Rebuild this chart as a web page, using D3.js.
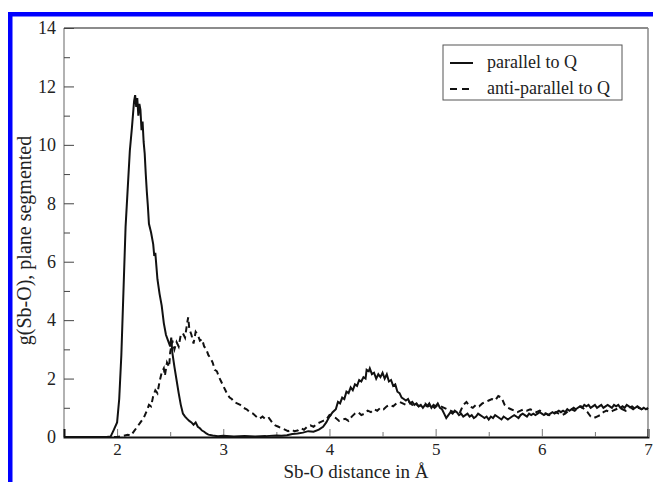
<!DOCTYPE html>
<html>
<head>
<meta charset="utf-8">
<script src="https://cdn.jsdelivr.net/npm/d3@7"></script>
<style>
  body { margin: 0; background: #fff; }
  svg { display: block; }
  svg text { font-family: "Liberation Serif", "Times New Roman", "DejaVu Serif", serif; }
</style>
</head>
<body>
<div id="chart"></div>
<script>
// ---- data ----
const parallelX = [1.50,1.90,1.94,1.97,2.00,2.02,2.04,2.06,2.08,2.10,2.12,2.14,2.16,2.17,2.18,2.19,2.20,2.21,2.22,2.23,2.24,2.25,2.26,2.27,2.28,2.29,2.30,2.32,2.34,2.35,2.36,2.38,2.40,2.42,2.44,2.46,2.48,2.50,2.51,2.52,2.54,2.56,2.58,2.60,2.62,2.64,2.66,2.68,2.70,2.72,2.74,2.76,2.78,2.80,2.82,2.84,2.86,2.90,2.95,3.00,3.10,3.20,3.30,3.40,3.50,3.55,3.60,3.65,3.70,3.75,3.80,3.85,3.90,3.94,3.97,4.00,4.03,4.06,4.08,4.10,4.12,4.14,4.16,4.18,4.20,4.22,4.24,4.26,4.28,4.30,4.32,4.34,4.35,4.37,4.38,4.40,4.42,4.44,4.46,4.48,4.50,4.52,4.54,4.56,4.58,4.60,4.62,4.64,4.66,4.68,4.70,4.72,4.74,4.76,4.78,4.80,4.82,4.84,4.86,4.88,4.90,4.92,4.94,4.96,4.98,5.00,5.02,5.04,5.06,5.08,5.10,5.12,5.14,5.16,5.18,5.20,5.22,5.24,5.26,5.28,5.30,5.32,5.34,5.36,5.38,5.40,5.42,5.44,5.46,5.48,5.50,5.52,5.54,5.56,5.58,5.60,5.62,5.64,5.66,5.68,5.70,5.72,5.74,5.76,5.78,5.80,5.82,5.84,5.86,5.88,5.90,5.92,5.94,5.96,5.98,6.00,6.02,6.04,6.06,6.08,6.10,6.12,6.14,6.16,6.18,6.20,6.22,6.24,6.26,6.28,6.30,6.32,6.34,6.36,6.38,6.40,6.42,6.44,6.46,6.48,6.50,6.52,6.54,6.56,6.58,6.60,6.62,6.64,6.66,6.68,6.70,6.72,6.74,6.76,6.78,6.80,6.82,6.84,6.86,6.88,6.90,6.92,6.94,6.96,6.98,7.00];
const parallelY = [0,0,0.02,0.25,0.5,1.3,2.8,5.0,7.2,8.5,9.8,10.6,11.5,11.7,11.3,11.6,11.0,11.4,11.2,10.5,10.8,10.1,9.7,9.0,8.4,7.9,7.3,7.0,6.6,6.2,6.3,5.4,4.9,4.5,3.9,3.5,3.3,3.1,3.4,2.9,2.4,1.95,1.5,1.1,0.8,0.7,0.62,0.55,0.5,0.42,0.5,0.35,0.3,0.22,0.18,0.12,0.08,0.05,0.03,0.04,0.02,0.03,0.02,0.03,0.05,0.04,0.06,0.1,0.12,0.15,0.2,0.18,0.25,0.35,0.5,0.7,0.85,0.95,1.2,1.15,1.35,1.3,1.55,1.5,1.7,1.6,1.8,1.75,1.95,1.9,2.05,2.0,2.3,2.25,2.35,2.15,2.2,2.0,2.15,2.05,2.2,2.0,2.15,1.9,1.95,1.75,1.8,1.55,1.5,1.35,1.3,1.25,1.3,1.15,1.2,1.1,1.15,1.05,1.1,1.0,1.1,1.05,1.15,1.0,1.1,1.05,1.15,1.0,0.95,0.8,0.65,0.75,0.85,0.8,0.9,0.85,0.75,0.8,0.7,0.75,0.8,0.7,0.75,0.65,0.7,0.8,0.75,0.7,0.65,0.7,0.6,0.7,0.65,0.75,0.7,0.65,0.6,0.7,0.65,0.6,0.65,0.7,0.75,0.7,0.65,0.75,0.8,0.75,0.7,0.8,0.75,0.8,0.75,0.8,0.85,0.8,0.75,0.8,0.75,0.8,0.85,0.8,0.85,0.9,0.85,0.9,0.85,0.95,0.9,0.95,1.0,0.95,1.0,1.05,1.0,1.1,1.05,1.1,1.0,1.05,1.1,1.0,1.05,1.1,1.0,1.05,1.1,1.05,1.0,1.1,1.05,1.1,1.0,1.05,1.0,1.1,1.05,1.0,0.95,1.0,1.05,1.0,0.95,1.0,0.95,1.0];

const antiX = [1.50,2.00,2.05,2.10,2.13,2.16,2.19,2.22,2.25,2.28,2.30,2.32,2.34,2.36,2.38,2.40,2.42,2.44,2.45,2.47,2.49,2.50,2.52,2.54,2.56,2.58,2.60,2.62,2.64,2.66,2.67,2.68,2.70,2.72,2.74,2.76,2.78,2.80,2.82,2.84,2.86,2.88,2.90,2.92,2.94,2.96,2.98,3.00,3.02,3.04,3.06,3.08,3.10,3.13,3.16,3.19,3.22,3.25,3.28,3.31,3.34,3.37,3.40,3.43,3.46,3.49,3.52,3.55,3.58,3.61,3.64,3.67,3.70,3.73,3.76,3.79,3.82,3.85,3.88,3.91,3.94,3.97,4.00,4.03,4.06,4.09,4.12,4.15,4.18,4.21,4.24,4.27,4.30,4.33,4.36,4.39,4.42,4.45,4.48,4.51,4.54,4.57,4.60,4.63,4.66,4.69,4.72,4.75,4.78,4.81,4.84,4.87,4.90,4.93,4.96,4.99,5.02,5.05,5.08,5.11,5.14,5.17,5.20,5.23,5.26,5.29,5.32,5.35,5.38,5.41,5.44,5.47,5.50,5.53,5.56,5.59,5.62,5.65,5.68,5.71,5.74,5.77,5.80,5.83,5.86,5.89,5.92,5.95,5.98,6.01,6.04,6.07,6.10,6.13,6.16,6.19,6.22,6.25,6.28,6.31,6.34,6.37,6.40,6.43,6.46,6.49,6.52,6.55,6.58,6.61,6.64,6.67,6.70,6.73,6.76,6.79,6.82,6.85,6.88,6.91,6.94,6.97,7.00];
const antiY = [0,0,0.03,0.08,0.05,0.2,0.35,0.5,0.65,0.9,1.1,1.05,1.4,1.6,1.5,1.9,2.2,2.35,2.1,2.55,2.4,2.9,3.3,3.0,3.25,3.1,3.5,3.55,3.4,3.9,4.1,3.7,3.5,3.2,3.6,3.5,3.3,3.35,3.1,3.0,2.8,2.7,2.55,2.3,2.25,2.05,1.9,1.75,1.6,1.45,1.35,1.3,1.2,1.15,1.1,1.0,0.95,0.85,0.8,0.7,0.62,0.7,0.6,0.65,0.5,0.4,0.35,0.3,0.25,0.2,0.25,0.2,0.22,0.3,0.25,0.35,0.4,0.35,0.45,0.5,0.55,0.6,0.75,0.7,0.65,0.55,0.6,0.62,0.55,0.7,0.8,0.85,0.75,0.8,0.9,0.85,0.95,0.9,1.0,0.95,1.05,1.1,1.05,1.15,1.2,1.15,1.1,1.2,1.1,1.15,1.05,1.1,1.15,1.05,1.1,1.0,1.1,1.05,1.0,0.95,0.9,0.85,0.9,0.85,1.1,1.2,1.05,1.0,1.1,1.05,1.15,1.2,1.25,1.3,1.25,1.4,1.35,1.1,1.0,0.95,0.9,0.85,0.9,0.95,0.9,0.95,0.9,0.85,0.9,0.85,0.8,0.75,0.8,0.85,0.8,0.75,0.8,0.9,0.95,0.9,1.0,1.05,0.95,0.85,0.7,0.65,0.7,0.75,0.85,0.9,0.85,0.9,0.95,1.0,0.95,0.9,1.0,1.05,0.95,1.0,0.95,1.0,0.95];

const xTicks = [2, 3, 4, 5, 6, 7];
const yTicks = [0, 2, 4, 6, 8, 10, 12, 14];
const legendLabels = ["parallel to Q", "anti-parallel to Q"];

// ---- layout ----
const W = 653, H = 482;
const margin = { top: 28, right: 5, bottom: 45, left: 64 };
const width = W - margin.left - margin.right;
const height = H - margin.top - margin.bottom;
const serif = "'Liberation Serif', 'Times New Roman', 'DejaVu Serif', serif";

const svg = d3.select("#chart").append("svg")
  .attr("width", W).attr("height", H)
  .attr("font-family", serif);

svg.append("rect").attr("width", W).attr("height", H).attr("fill", "#fff");

// blue frame (top + left)
svg.append("rect").attr("x", 8).attr("y", 12).attr("width", W - 8).attr("height", 4.5).attr("fill", "#0000ff");
svg.append("rect").attr("x", 8).attr("y", 12).attr("width", 4.5).attr("height", H - 12).attr("fill", "#0000ff");

const g = svg.append("g").attr("transform", `translate(${margin.left},${margin.top})`);

const x = d3.scaleLinear().domain([1.5, 7]).range([0, width]);
const y = d3.scaleLinear().domain([0, 14]).range([height, 0]);

// frame
g.append("line").attr("x1", 0).attr("x2", width).attr("y1", 0).attr("y2", 0).attr("stroke", "#666").attr("stroke-width", 1.5);
g.append("line").attr("x1", width).attr("x2", width).attr("y1", 0).attr("y2", height).attr("stroke", "#888").attr("stroke-width", 1.5);
g.append("line").attr("x1", 0).attr("x2", 0).attr("y1", 0).attr("y2", height).attr("stroke", "#999").attr("stroke-width", 1.5);

// x axis: ticks inside
const xAxis = g.append("g").attr("transform", `translate(0,${height})`)
  .call(d3.axisBottom(x).tickValues(xTicks).tickSize(-8).tickPadding(6).tickFormat(d3.format("d")));
xAxis.attr("font-family", serif);
xAxis.select(".domain").attr("stroke", "#111").attr("stroke-width", 2);
xAxis.selectAll(".tick line").attr("stroke", "#777");
xAxis.selectAll("text").attr("font-size", 17).attr("fill", "#222");
g.append("g").attr("transform", `translate(0,${height})`)
  .call(d3.axisBottom(x).tickValues([2.5, 3.5, 4.5, 5.5, 6.5]).tickSize(-5).tickFormat(""))
  .call(a => a.select(".domain").remove())
  .selectAll(".tick line").attr("stroke", "#777");

// y axis
const yAxis = g.append("g")
  .call(d3.axisLeft(y).tickValues(yTicks).tickSize(-10).tickPadding(8).tickFormat(d3.format("d")));
yAxis.attr("font-family", serif);
yAxis.select(".domain").remove();
yAxis.selectAll(".tick line").attr("stroke", "#444");
yAxis.selectAll("text").attr("font-size", 18).attr("fill", "#222");
g.append("g")
  .call(d3.axisLeft(y).tickValues([1, 3, 5, 7, 9, 11, 13]).tickSize(-6).tickFormat(""))
  .call(a => a.select(".domain").remove())
  .selectAll(".tick line").attr("stroke", "#444");

// axis titles
g.append("text").attr("x", width / 2).attr("y", height + 41)
  .attr("text-anchor", "middle").attr("font-size", 19).attr("fill", "#222")
  .text("Sb-O distance in Å");
g.append("text").attr("transform", `translate(-33,${height / 2 + 8}) rotate(-90)`)
  .attr("text-anchor", "middle").attr("font-size", 20).attr("fill", "#222")
  .text("g(Sb-O), plane segmented");

// curves
const line = d3.line().x(d => x(d[0])).y(d => y(d[1]));
const parallel = d3.zip(parallelX, parallelY);
const anti = d3.zip(antiX, antiY);

g.append("path").datum(anti).attr("d", line)
  .attr("fill", "none").attr("stroke", "#111").attr("stroke-width", 2)
  .attr("stroke-dasharray", "6,4");
g.append("path").datum(parallel).attr("d", line)
  .attr("fill", "none").attr("stroke", "#111").attr("stroke-width", 2);

// legend
const lg = svg.append("g").attr("transform", "translate(443,45)");
lg.append("rect").attr("width", 179).attr("height", 55)
  .attr("fill", "#fff").attr("stroke", "#555").attr("stroke-width", 1);
legendLabels.forEach((lab, i) => {
  const yy = 18 + i * 26;
  lg.append("line").attr("x1", 7).attr("x2", 30).attr("y1", yy).attr("y2", yy)
    .attr("stroke", "#111").attr("stroke-width", 2)
    .attr("stroke-dasharray", i === 1 ? "7,5" : null);
  lg.append("text").attr("x", 44).attr("y", yy + 5).attr("font-size", 18).attr("fill", "#222").text(lab);
});
</script>
</body>
</html>
